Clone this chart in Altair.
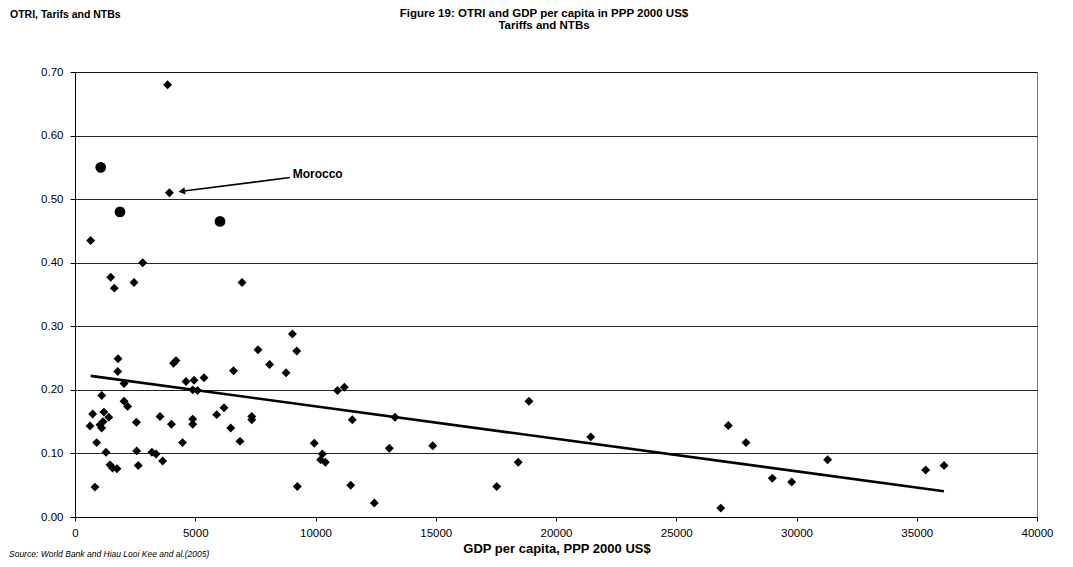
import altair as alt
import pandas as pd

# ---- data ----
diamond_gdp = [3850, 3925, 650, 2815, 1485, 1635, 2455, 6945, 9040, 7610,
               9220, 1790, 4100, 4200, 8090, 1775, 6590, 8775, 2040, 4615,
               4950, 5365, 4895, 5095, 10915, 11200, 1110, 2040, 2190, 735,
               1200, 1405, 3535, 6195, 5890, 7350, 7350, 11530, 13305, 625,
               1040, 1165, 1110, 2555, 4010, 4895, 4895, 6475, 900, 4470,
               6860, 9950, 13070, 14875, 21445, 27165, 27900, 1290, 2565, 3200,
               3370, 10285, 10215, 10410, 3645, 1455, 1560, 1745, 2630, 18430,
               18875, 17535, 31295, 28995, 29800, 35370, 36135, 830, 9245, 11465,
               12445, 26850]
diamond_otri = [0.680, 0.510, 0.435, 0.400, 0.377, 0.360, 0.369, 0.369, 0.288, 0.263,
                0.261, 0.249, 0.242, 0.246, 0.240, 0.229, 0.230, 0.227, 0.210, 0.213,
                0.215, 0.219, 0.200, 0.199, 0.199, 0.204, 0.191, 0.182, 0.174, 0.162,
                0.165, 0.157, 0.158, 0.172, 0.161, 0.158, 0.153, 0.153, 0.157, 0.143,
                0.145, 0.150, 0.140, 0.149, 0.146, 0.154, 0.146, 0.140, 0.117, 0.117,
                0.119, 0.116, 0.108, 0.112, 0.126, 0.144, 0.117, 0.102, 0.104, 0.102,
                0.099, 0.099, 0.090, 0.086, 0.088, 0.082, 0.077, 0.076, 0.081, 0.086,
                0.182, 0.048, 0.090, 0.061, 0.055, 0.074, 0.081, 0.047, 0.048, 0.050,
                0.022, 0.014]
circle_gdp = [1070, 1870, 6030]
circle_otri = [0.550, 0.480, 0.465]
trend_gdp = [650, 36130]
trend_otri = [0.222, 0.0405]

annot_label = ["Morocco"]
annot_text_gdp = [9050]
annot_text_otri = [0.5395]
arrow_from_gdp = [8940]
arrow_from_otri = [0.534]
arrow_to_gdp = [4440]
arrow_to_otri = [0.5123]

x_ticks = [0, 5000, 10000, 15000, 20000, 25000, 30000, 35000, 40000]
y_ticks = [0.0, 0.1, 0.2, 0.3, 0.4, 0.5, 0.6, 0.7]

title_lines = ["Figure 19: OTRI and GDP per capita in PPP 2000 US$", "Tariffs and NTBs"]
y_title = ["OTRI, Tarifs and NTBs"]
x_title = ["GDP per capita, PPP 2000 US$"]
source_note = ["Source: World Bank and Hiau Looi Kee and al.(2005)"]

FONT = "Liberation Sans"

diam = pd.DataFrame({"gdp": diamond_gdp, "otri": diamond_otri})
circ = pd.DataFrame({"gdp": circle_gdp, "otri": circle_otri})
trend = pd.DataFrame({"gdp": trend_gdp, "otri": trend_otri})
arrow = pd.DataFrame({"gdp": arrow_from_gdp, "otri": arrow_from_otri,
                      "gdp2": arrow_to_gdp, "otri2": arrow_to_otri})
head = pd.DataFrame({"gdp": arrow_to_gdp, "otri": arrow_to_otri})
annot = pd.DataFrame({"gdp": annot_text_gdp, "otri": annot_text_otri, "label": annot_label})

xscale = alt.Scale(domain=[0, 40000], nice=False, zero=False)
yscale = alt.Scale(domain=[0, 0.7], nice=False, zero=False)
xaxis = alt.Axis(values=x_ticks, format="d", title=None, grid=False,
                 labelFont=FONT, labelFontSize=11.5, labelColor="black",
                 tickSize=4, tickColor="black", domainColor="black",
                 labelPadding=6, labelFlush=False)
yaxis = alt.Axis(values=y_ticks, format=".2f", title=None, grid=True,
                 gridColor="black", gridWidth=1, gridOpacity=0.85,
                 labelFont=FONT, labelFontSize=11.5, labelColor="black",
                 tickSize=5, tickColor="black", domainColor="black",
                 labelPadding=7)

X = alt.X("gdp:Q", scale=xscale, axis=xaxis)
Y = alt.Y("otri:Q", scale=yscale, axis=yaxis)

diamonds = alt.Chart(diam).mark_point(shape="diamond", filled=True, color="black",
                                      size=80, opacity=1).encode(x=X, y=Y)
circles = alt.Chart(circ).mark_point(shape="circle", filled=True, color="black",
                                     size=115, opacity=1).encode(x=X, y=Y)
trendline = alt.Chart(trend).mark_line(color="black", strokeWidth=2.6).encode(x=X, y=Y)
arrow_line = alt.Chart(arrow).mark_rule(color="black", strokeWidth=1.6).encode(
    x=X, y=Y, x2="gdp2:Q", y2="otri2:Q")
arrow_head = alt.Chart(head).mark_point(shape="triangle-left", filled=True, color="black",
                                        size=55, angle=353, opacity=1).encode(x=X, y=Y)
annot_text = alt.Chart(annot).mark_text(align="left", baseline="middle", font=FONT,
                                        fontSize=12, fontWeight="bold", color="black").encode(
    x=X, y=Y, text="label:N")


def label(txt, x, y, align="center", size=11, weight="bold", style="normal"):
    return alt.Chart(pd.DataFrame({"t": txt})).mark_text(
        align=align, baseline="middle", font=FONT, fontSize=size, fontWeight=weight,
        fontStyle=style, color="black").encode(
        x=alt.value(x), y=alt.value(y), text="t:N")


t1 = label(title_lines[:1], 469, -58, size=11.5)
t2 = label(title_lines[1:], 469, -46, size=11.5)
ty = label(y_title, -65, -57, align="left", size=10.5)
tx = label(x_title, 482, 477, size=13)
ts = label(source_note, -66, 482, align="left", size=8.5, weight="normal", style="italic")

chart = alt.layer(diamonds, circles, trendline, arrow_line, arrow_head, annot_text,
                  t1, t2, ty, tx, ts).properties(
    width=962, height=445,
    autosize=alt.AutoSizeParams(type="none"),
    padding={"left": 67, "top": 64, "right": 28, "bottom": 42},
    background="white",
).configure_view(stroke="#777777", strokeWidth=1)

chart.save("out.html", embed_options={"renderer": "svg", "actions": False})
